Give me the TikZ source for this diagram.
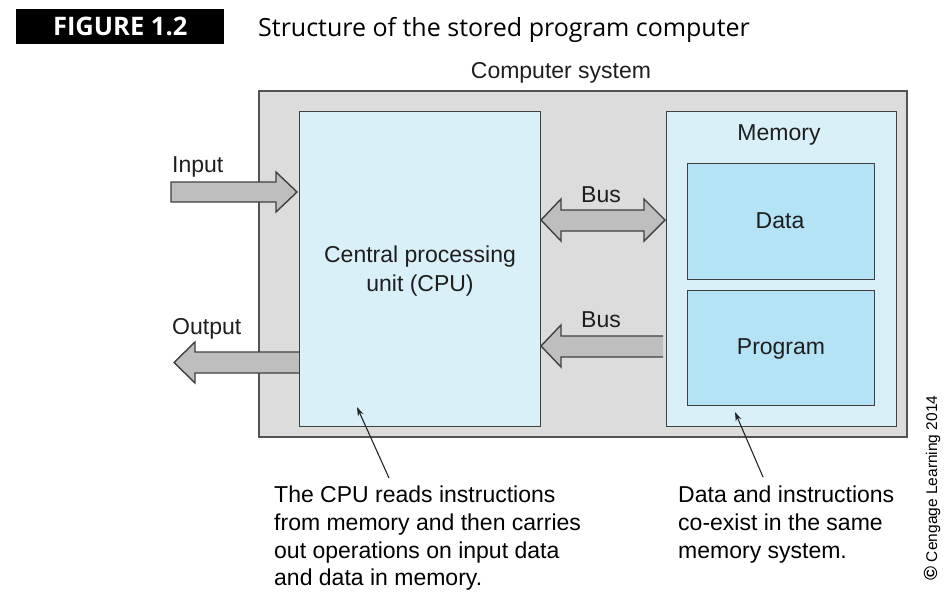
\documentclass[tikz,border=0pt]{standalone}
\usepackage{fontspec}
\setmainfont{Liberation Sans}
\newfontfamily\titlefont{Open Sans}
\usetikzlibrary{arrows.meta}
\definecolor{boxgray}{HTML}{DCDCDC}
\definecolor{cpublue}{HTML}{D9F0F9}
\definecolor{memblue}{HTML}{B5E3F6}
\definecolor{arrgray}{HTML}{BEBEBE}
\definecolor{edgec}{HTML}{404040}
\definecolor{txt}{HTML}{1E1E1E}
\begin{document}
\begin{tikzpicture}[x=1pt,y=-1pt,
  lbl/.style={font=\fontsize{23}{29}\selectfont, text=txt, inner sep=0pt},
  note/.style={font=\fontsize{23}{27.6}\selectfont, text=black, inner sep=0pt, align=left, anchor=north west},
  boxbase/.style={draw=edgec, line width=1.4pt, anchor=north west, inner sep=0pt},
  outerbox/.style={boxbase, fill=boxgray, line width=2pt, draw=edgec!90},
  lightbox/.style={boxbase, fill=cpublue},
  darkbox/.style={boxbase, fill=memblue},
  blockarrow/.style={fill=arrgray, draw=edgec, line width=1.4pt, line join=miter},
  pointer/.style={draw=black!85, line width=1.1pt, -{Stealth[length=9pt,width=6pt]}}
]
\useasboundingbox (0,0) rectangle (949,591);

% heading
\node[fill=black, anchor=north west, minimum width=208pt, minimum height=35pt, inner sep=0pt] (figbox) at (16,9) {};
\node[text=white, font=\titlefont\bfseries\fontsize{25.5}{28}\selectfont, inner sep=0pt] (figtxt) at (figbox.center) {FIGURE 1.2};
\node[font=\titlefont\fontsize{25}{28}\selectfont, anchor=base west, inner sep=0pt] (title) at (258,37) {Structure of the stored program computer};

% outer system
\node[lbl, anchor=base] (syslbl) at (561,79) {Computer system};
\node[outerbox, minimum width=648pt, minimum height=346pt] (outer) at (258,90) {};

% block arrows (under the boxes)
\path[blockarrow] (171,182) -- (276,182) -- (276,172) -- (297,192) -- (276,212) -- (276,202) -- (171,202) -- cycle;
\path[blockarrow] (302,352) -- (195,352) -- (195,342) -- (174,362.5) -- (195,383) -- (195,373) -- (302,373);
\path[blockarrow] (541,220) -- (561,199) -- (561,210) -- (644,210) -- (644,199) -- (665,220) -- (644,241) -- (644,231) -- (561,231) -- (561,241) -- cycle;
\path[blockarrow] (663,336) -- (561,336) -- (561,325) -- (541,346) -- (561,367) -- (561,357) -- (663,357);

% CPU
\node[lightbox, minimum width=241pt, minimum height=315pt] (cpu) at (299,111) {};
\node[lbl, align=center, anchor=base] (cpulbl) at (420,291) {Central processing\\unit (CPU)};

% Memory
\node[lightbox, minimum width=230pt, minimum height=315pt] (mem) at (666,111) {};
\node[lbl, anchor=base] (memlbl) at (779,140) {Memory};
\node[darkbox, minimum width=187pt, minimum height=116pt] (data) at (687,163) {};
\node[lbl, anchor=base] (datalbl) at (780,228) {Data};
\node[darkbox, minimum width=187pt, minimum height=115pt] (prog) at (687,290) {};
\node[lbl, anchor=base] (proglbl) at (781,354) {Program};

% labels of arrows
\node[lbl, anchor=base west] (inlbl) at (172,172) {Input};
\node[lbl, anchor=base west] (outlbl) at (172,334) {Output};
\node[lbl, anchor=base] (bus1) at (601,202) {Bus};
\node[lbl, anchor=base] (bus2) at (601,327) {Bus};

% notes
\node[note] (note1) at (274,486) {The CPU reads instructions\\from memory and then carries\\out operations on input data\\and data in memory.};
\node[note] (note2) at (678,486) {Data and instructions\\co-exist in the same\\memory system.};
\coordinate (cpuptr) at (357,407);
\coordinate (memptr) at (735,412);
\coordinate (n1tail) at (389,478);
\coordinate (n2tail) at (763,477);
\draw[pointer] (n1tail) -- (cpuptr);
\draw[pointer] (n2tail) -- (memptr);

% copyright
\node[rotate=90, font=\fontsize{15.5}{18}\selectfont, inner sep=0pt] (copy) at (932,488) {{\fontsize{19}{18}\selectfont\textbf{©}} Cengage Learning 2014};
\end{tikzpicture}
\end{document}
